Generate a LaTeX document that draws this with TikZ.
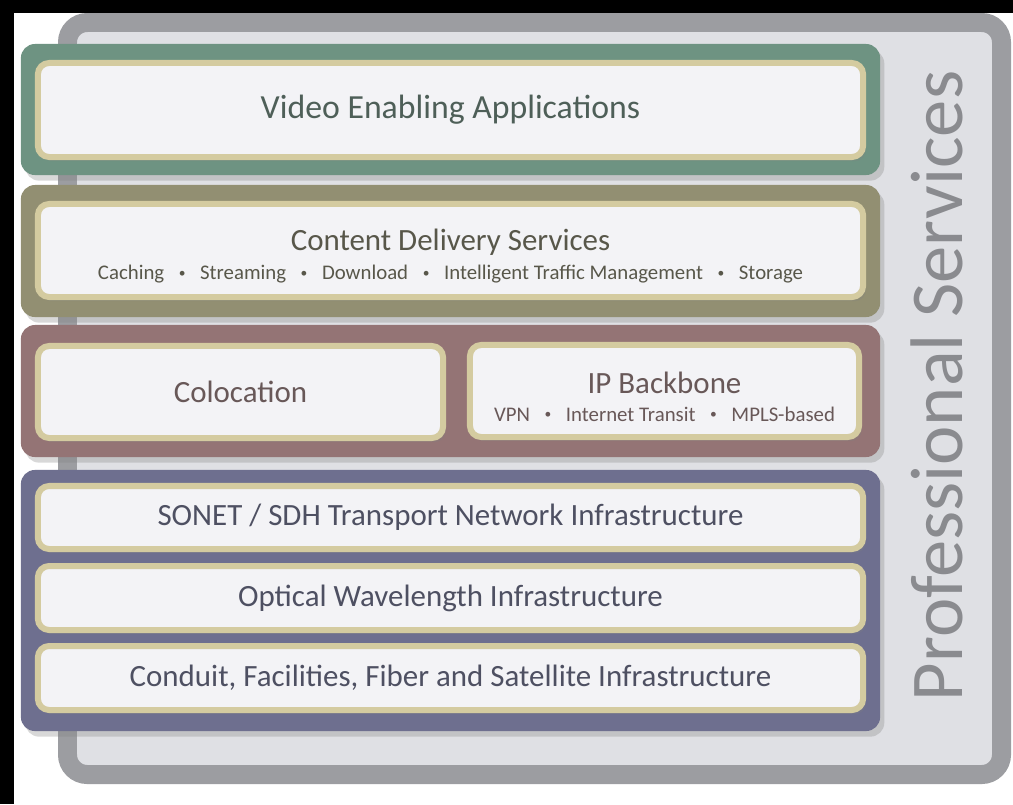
\documentclass[tikz,border=0pt]{standalone}
\usepackage{fontspec}
\setmainfont{Carlito}
\usetikzlibrary{shadows}

\definecolor{framegray}{HTML}{9C9DA1}
\definecolor{framefill}{HTML}{DFE0E4}
\definecolor{profgray}{HTML}{8A8B8F}
\definecolor{appgreen}{HTML}{6E9382}
\definecolor{cdsolive}{HTML}{928F72}
\definecolor{netmauve}{HTML}{947475}
\definecolor{infrablue}{HTML}{6E6F8F}
\definecolor{tanline}{HTML}{D4CBA0}
\definecolor{boxfill}{HTML}{F3F3F6}
\definecolor{apptext}{HTML}{4E5F58}
\definecolor{cdstext}{HTML}{58574A}
\definecolor{nettext}{HTML}{685858}
\definecolor{infratext}{HTML}{4E5062}

\newcommand{\titlefont}{\fontsize{22}{25}\selectfont}
\newcommand{\subfont}{\fontsize{14.8}{17}\selectfont}
\newcommand{\itemdot}{\hspace{0.7em}\raisebox{0.12em}{\scalebox{0.65}{\textbullet}}\hspace{0.7em}}
% taller first line, pushes a two-line label a little down
\newcommand{\headstrut}{\rule{0pt}{23pt}}

\begin{document}
\begin{tikzpicture}[x=0.025cm,y=-0.025cm]

      \useasboundingbox (0,0) rectangle (1013,804);
      \fill[white] (0,0) rectangle (1013,804);
      \fill[black] (0,0) rectangle (1013,13);
      \fill[black] (0,0) rectangle (14,804);

      % frame round the whole stack
      \draw[framegray, line width=13.5pt, fill=framefill, rounded corners=14pt,
            drop shadow={shadow xshift=3pt, shadow yshift=-4pt, opacity=.25}]
        (67.5,22.5) rectangle (1001.5,774.5);
      \node[rotate=90, text=profgray, font=\fontsize{53}{53}\selectfont] (ps) at (937,386) {Professional Services};

      \begin{scope}[every node/.style={rounded corners=10pt, inner sep=0, minimum width=21.475cm,
                    drop shadow={shadow xshift=3pt, shadow yshift=-4pt, opacity=.3}}]
        \node[fill=appgreen,  minimum height=3.275cm] (b1) at (450.5,109.5) {};
        \node[fill=cdsolive,  minimum height=3.3cm]   (b2) at (450.5,251)   {};
        \node[fill=netmauve,  minimum height=3.3cm]   (b3) at (450.5,391)   {};
        \node[fill=infrablue, minimum height=6.525cm] (b4) at (450.5,600.5) {};
      \end{scope}

      \begin{scope}[every node/.style={draw=tanline, fill=boxfill, line width=4.27pt, rounded corners=8pt,
                    inner sep=0, align=center, font=\titlefont, minimum width=20.625cm,
                    drop shadow={shadow xshift=2pt, shadow yshift=-3pt, opacity=.25}}]
        \node[text=apptext, minimum height=2.35cm, font=\fontsize{24}{27}\selectfont] (1) at (450.5,110) {Video Enabling Applications};
        \node[text=cdstext, minimum height=2.325cm] (2) at (450.5,250.5)
          {\headstrut Content Delivery Services\\[-4pt]
           {\subfont Caching\itemdot Streaming\itemdot Download\itemdot Intelligent Traffic Management\itemdot Storage}};
        \node[text=nettext, minimum height=2.3cm, minimum width=10.125cm] (3) at (240.5,392) {Colocation};
        \node[text=nettext, minimum height=2.3cm, minimum width=9.725cm] (4) at (664.5,391)
          {\headstrut IP Backbone\\[-5pt]
           {\subfont VPN\itemdot Internet Transit\itemdot MPLS-based}};
        \node[text=infratext, minimum height=1.575cm] (5) at (450.5,517.5) {SONET / SDH Transport Network Infrastructure};
        \node[text=infratext, minimum height=1.6cm]   (6) at (450.5,598)   {Optical Wavelength Infrastructure};
        \node[text=infratext, minimum height=1.6cm]   (7) at (450.5,678)   {Conduit, Facilities, Fiber and Satellite Infrastructure};
      \end{scope}

    \end{tikzpicture}
\end{document}
